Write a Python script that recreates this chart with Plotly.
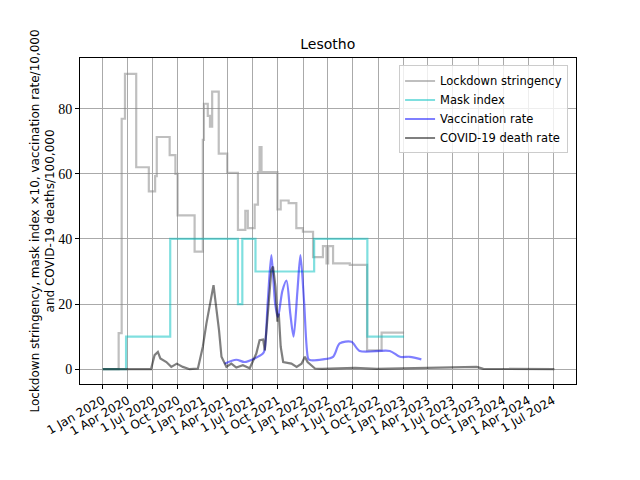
import plotly.graph_objects as go
import pandas as pd

# lockdown stringency index (step)
stringency_dates = ["2020-01-01", "2020-02-28", "2020-03-10", "2020-03-22", "2020-05-02",
                    "2020-06-17", "2020-07-10", "2020-07-16", "2020-09-01", "2020-09-22",
                    "2020-09-30", "2020-12-01", "2020-12-31", "2021-01-04", "2021-01-18",
                    "2021-01-26", "2021-02-03", "2021-02-27", "2021-03-30", "2021-05-08",
                    "2021-06-04", "2021-06-13", "2021-07-08", "2021-07-20", "2021-07-26",
                    "2021-08-02", "2021-09-29", "2021-10-11", "2021-11-09", "2021-12-07",
                    "2021-12-31", "2022-02-06", "2022-03-14", "2022-03-27", "2022-04-02",
                    "2022-04-20", "2022-06-20", "2022-08-22", "2022-10-14", "2023-01-04"]
stringency = [0, 11.1, 76.9, 90.7, 62.0,
              54.6, 59.3, 71.3, 65.7, 60.0,
              47.2, 36.1, 70.4, 81.5, 77.8,
              74.5, 85.2, 66.2, 60.3, 42.8,
              48.6, 43.3, 50.5, 60.5, 68.2,
              60.5, 49.1, 51.8, 51.0, 43.3,
              42.2, 34.4, 37.8, 32.5, 37.8,
              32.5, 32.0, 5.8, 11.2, 11.2]

# mask index x10 (step)
mask_dates = ["2020-01-01", "2020-03-26", "2020-09-03", "2021-05-08", "2021-05-24",
              "2021-07-11", "2022-02-10", "2022-08-23", "2023-01-04"]
mask = [0, 10, 40, 20, 40, 30, 40, 10, 10]

# vaccination rate /10,000
vacc_dates = ["2021-03-20", "2021-05-02", "2021-06-01", "2021-07-08", "2021-08-07",
              "2021-08-13", "2021-08-25", "2021-09-07", "2021-09-21", "2021-10-01",
              "2021-10-17", "2021-11-01", "2021-11-15", "2021-11-27", "2021-12-11",
              "2021-12-22", "2022-01-04", "2022-01-19", "2022-01-25", "2022-03-14",
              "2022-04-20", "2022-05-14", "2022-06-26", "2022-07-26", "2022-11-13",
              "2022-12-20", "2023-01-25", "2023-03-08"]
vacc = [1.7, 2.9, 2.2, 3.3, 4.8,
        5.8, 21, 35, 20, 16,
        24, 27.2, 17, 10, 24,
        35, 21, 3.3, 2.8, 3.0,
        3.8, 7.9, 8.4, 5.6, 5.6,
        3.8, 3.8, 3.0]

# covid-19 deaths /100,000
death_dates = ["2020-01-01", "2020-06-25", "2020-07-08", "2020-07-20", "2020-07-29",
               "2020-08-20", "2020-09-07", "2020-09-27", "2020-10-19", "2020-11-13",
               "2020-12-13", "2020-12-31", "2021-01-13", "2021-01-27", "2021-02-08",
               "2021-02-16", "2021-02-28", "2021-03-09", "2021-03-27", "2021-04-14",
               "2021-05-02", "2021-05-26", "2021-06-20", "2021-07-14", "2021-07-26",
               "2021-08-08", "2021-08-14", "2021-08-24", "2021-09-07", "2021-09-13",
               "2021-09-22", "2021-09-29", "2021-10-04", "2021-10-11", "2021-10-20",
               "2021-11-19", "2021-12-08", "2021-12-26", "2022-01-07", "2022-01-17",
               "2022-02-13", "2022-03-11", "2022-07-09", "2022-09-27", "2023-09-26",
               "2023-10-20", "2024-07-05"]
deaths = [0, 0, 4.3, 5.3, 3.3,
          2.2, 0.7, 1.7, 0.7, 0,
          0.2, 6.9, 14, 20.2, 25.8,
          20.2, 12, 3.8, 0.7, 1.7,
          0.5, 1.2, 0.3, 4.8, 8.9,
          9.1, 5.8, 16, 30.5, 31.5,
          25.3, 14.6, 17.1, 6.9, 2.2,
          1.7, 0.7, 1.7, 3.8, 2.2,
          0.2, 0.1, 0.4, 0.1, 0.7,
          0.1, 0]

tick_dates = pd.date_range("2020-01-01", "2024-07-01", freq="QS")
tick_labels = ["1 " + d.strftime("%b %Y") for d in tick_dates]

y_title = "Lockdown stringency, mask index \u00d710, vaccination rate/10,000<br>and COVID-19 deaths/100,000"

fig = go.Figure()
fig.add_trace(go.Scatter(x=stringency_dates, y=stringency, mode="lines", line_shape="hv",
                         line=dict(color="rgba(128,128,128,0.5)", width=2.2), name="Lockdown stringency"))
fig.add_trace(go.Scatter(x=mask_dates, y=mask, mode="lines", line_shape="hv",
                         line=dict(color="rgba(0,191,191,0.5)", width=2.2), name="Mask index"))
fig.add_trace(go.Scatter(x=vacc_dates, y=vacc, mode="lines", line_shape="spline",
                         line=dict(color="rgba(0,0,255,0.5)", width=2.2, smoothing=0.8), name="Vaccination rate"))
fig.add_trace(go.Scatter(x=death_dates, y=deaths, mode="lines",
                         line=dict(color="rgba(0,0,0,0.5)", width=2.2), name="COVID-19 death rate"))

# page body has an 8px margin, so the figure is made 8px smaller and shifted
fig.update_layout(
    width=632, height=472,
    margin=dict(l=72, r=64, t=50, b=96, autoexpand=False),
    plot_bgcolor="white", paper_bgcolor="white",
    font=dict(family="DejaVu Sans", size=12, color="black"),
    title=dict(text="Lesotho", x=0.506, xanchor="center", y=0.924, yanchor="middle",
               font=dict(size=14)),
    legend=dict(x=0.984, y=0.977, xanchor="right", yanchor="top",
                bgcolor="rgba(255,255,255,0.8)", bordercolor="#cccccc", borderwidth=1,
                font=dict(size=11.5), tracegroupgap=0, itemwidth=30),
    showlegend=True,
)
fig.add_annotation(text=y_title, textangle=-90, xref="paper", yref="paper",
                   x=-0.0756, y=0.5, xanchor="center", yanchor="middle",
                   showarrow=False, font=dict(size=12))
fig.update_xaxes(
    range=["2019-10-10", "2024-09-22"], tickvals=list(tick_dates), ticktext=tick_labels,
    tickangle=-30, showgrid=True, gridcolor="#aaaaaa", gridwidth=1, automargin=False,
    showline=True, mirror=True, linecolor="black", linewidth=1,
    ticks="outside", ticklen=4, tickcolor="black", tickfont=dict(size=12),
)
fig.update_yaxes(
    range=[-4.55, 95.55], tickvals=[0, 20, 40, 60, 80], showgrid=True, gridcolor="#aaaaaa",
    gridwidth=1, zeroline=False, showline=True, mirror=True, linecolor="black", linewidth=1,
    ticks="outside", ticklen=4, tickcolor="black", automargin=False,
    tickfont=dict(family="Liberation Serif", size=14),
)

fig.write_html("out.html")
